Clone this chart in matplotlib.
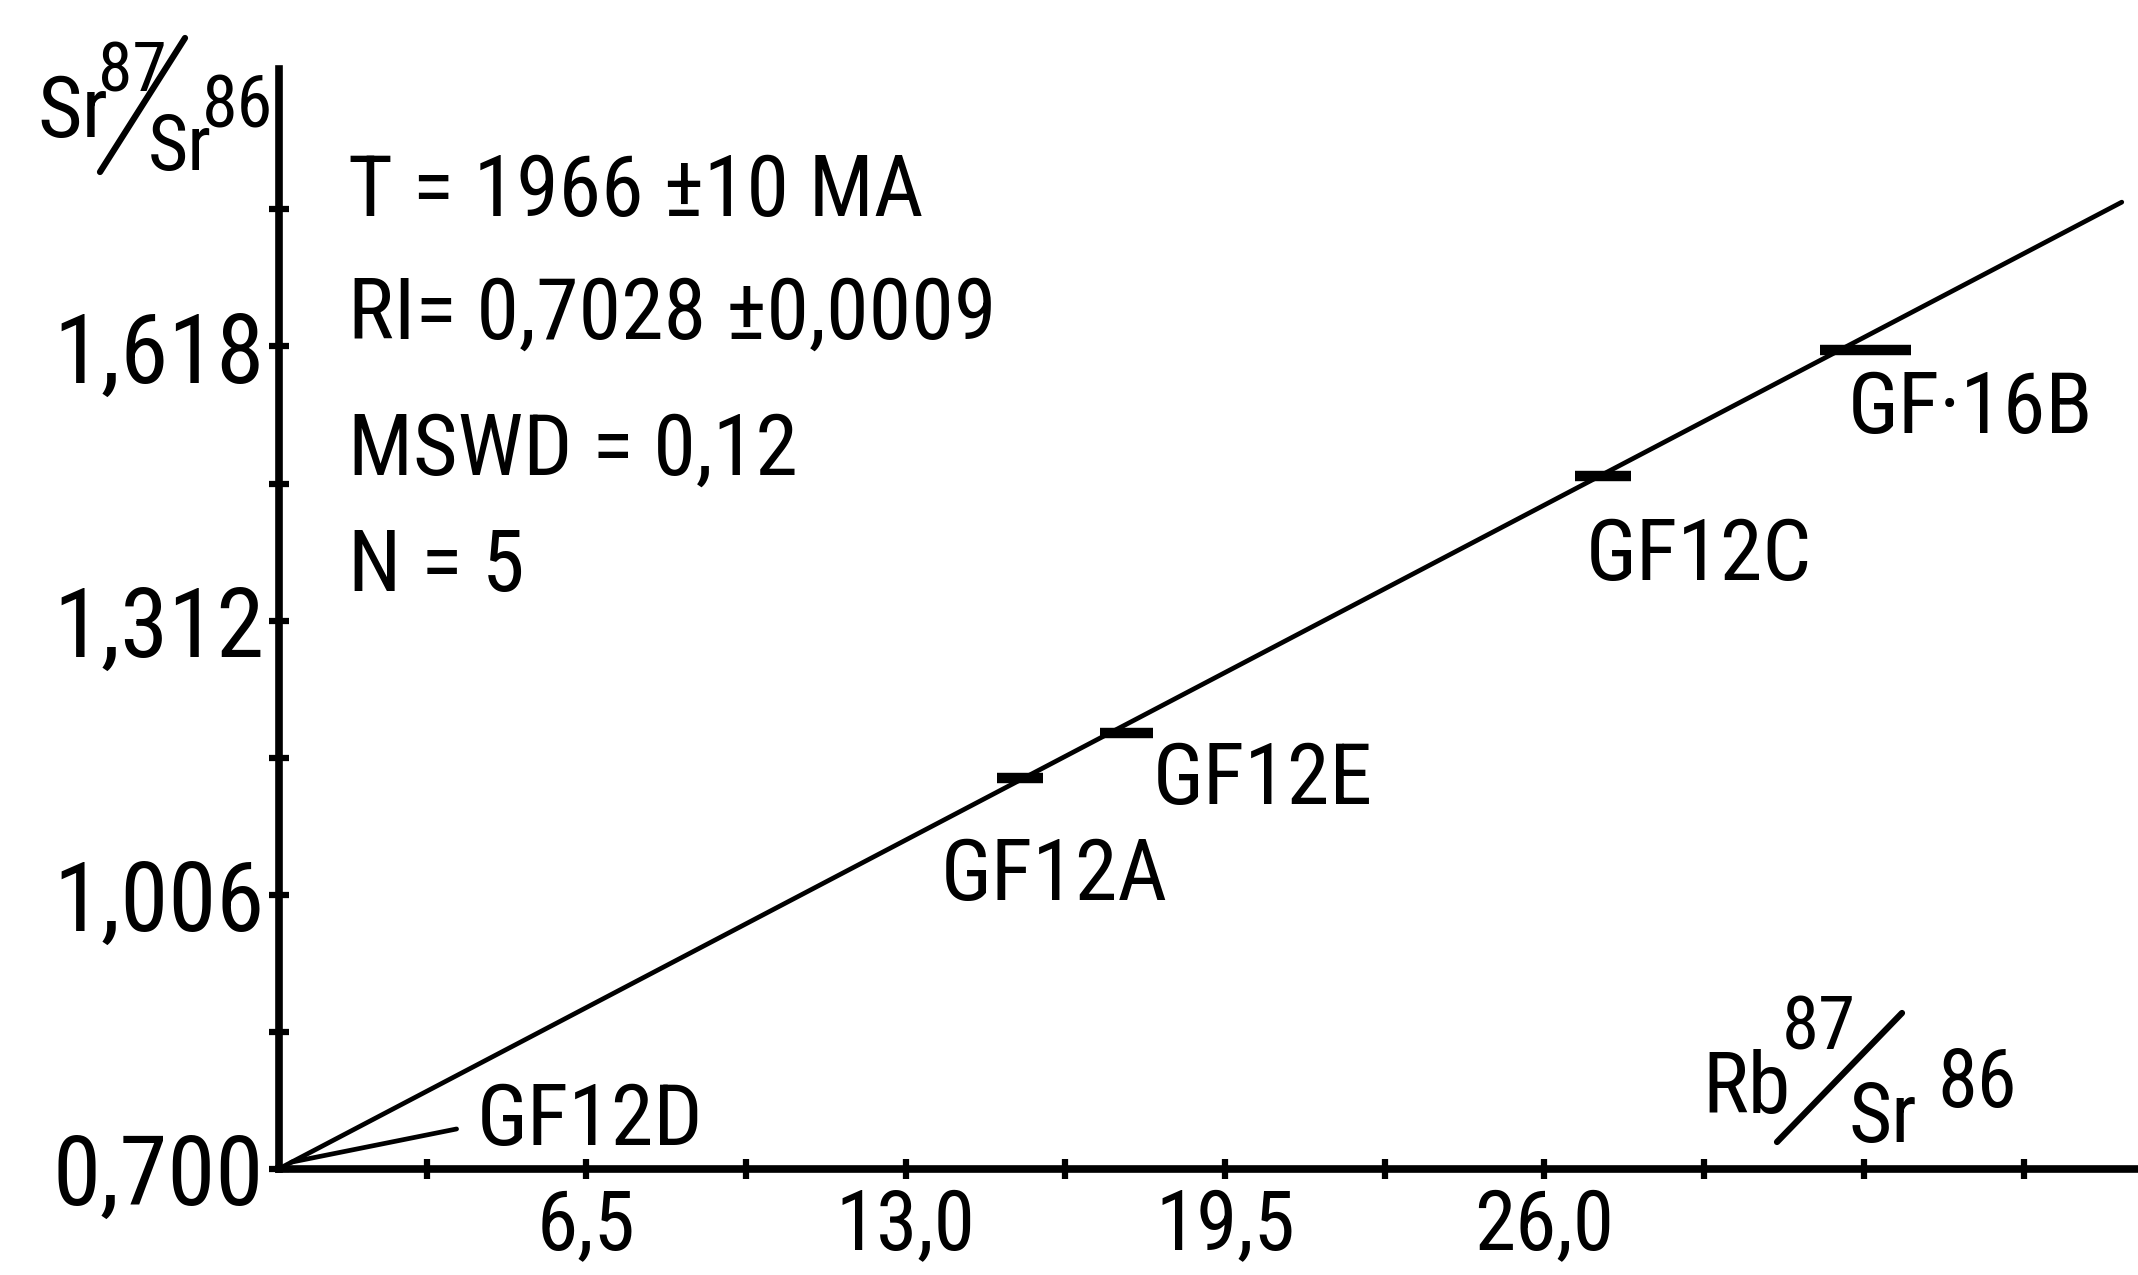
import matplotlib
matplotlib.use("Agg")
import matplotlib.pyplot as plt
from matplotlib.lines import Line2D

# Rb-Sr whole-rock isochron data
samples = ["GF12D", "GF12A", "GF12E", "GF12C", "GF·16B"]
rb_sr = [0.5, 15.33, 17.18, 27.19, 32.0]           # Rb87/Sr86
sr_sr = [0.708, 1.137, 1.187, 1.473, 1.614]        # Sr87/Sr86
err_lo = [0.0, 0.47, 0.22, 0.57, 0.40]             # horizontal error, left
err_hi = [0.0, 0.47, 0.86, 0.57, 1.45]             # horizontal error, right

# Fitted isochron end points
iso_x = [0.26, 37.75]
iso_y = [0.701, 1.779]

y_major = [0.700, 1.006, 1.312, 1.618]
y_major_labels = ["0,700", "1,006", "1,312", "1,618"]
y_minor = [0.853, 1.159, 1.465, 1.771]
x_major = [6.5, 13.0, 19.5, 26.0]
x_major_labels = ["6,5", "13,0", "19,5", "26,0"]
x_minor = [3.25, 9.75, 16.25, 22.75, 29.25, 32.5, 35.75]

stats = ["T = 1966 ±10 MA", "RI= 0,7028 ±0,0009", "MSWD = 0,12", "N = 5"]

plt.rcParams["font.family"] = ["Roboto Condensed", "DejaVu Sans"]

W, H = 2138, 1275
fig = plt.figure(figsize=(W / 100, H / 100), dpi=100)
ax = fig.add_axes([0.1307, 0.0829, 0.8693, 0.8626])

ax.set_xlim(0.255, 38.08)
ax.set_ylim(0.700, 1.927)

for side in ("top", "right"):
    ax.spines[side].set_visible(False)
for side in ("left", "bottom"):
    ax.spines[side].set_linewidth(5.5)
    ax.spines[side].set_capstyle("projecting")

ax.set_yticks(y_major)
ax.set_yticklabels(y_major_labels)
ax.set_yticks(y_minor, minor=True)
ax.set_xticks(x_major)
ax.set_xticklabels(x_major_labels)
ax.set_xticks(x_minor, minor=True)
ax.tick_params(which="both", direction="inout", length=14, width=4.5)
ax.tick_params(axis="y", which="major", pad=4, labelsize=70)
ax.tick_params(axis="x", which="major", pad=6, labelsize=60)

# Isochron
ax.plot(iso_x, iso_y, color="black", lw=3.4, solid_capstyle="round")

# Sample error bars
ax.errorbar(rb_sr, sr_sr, xerr=[err_lo, err_hi], fmt="none", ecolor="black",
            elinewidth=7.5, capsize=0)

# Leader for the sample near the origin
ax.annotate("", xy=(rb_sr[0], sr_sr[0]), xytext=(3.86, 0.745),
            arrowprops=dict(arrowstyle="-", lw=3.4, color="black",
                            shrinkA=0, shrinkB=0))

# Sample labels
label_pos = [(4.28, 0.7266), (13.72, 1.000), (18.02, 1.107), (26.85, 1.358), (32.17, 1.521)]
for name, (lx, ly) in zip(samples, label_pos):
    ax.text(lx, ly, name, fontsize=62, ha="left", va="baseline")

# Isochron statistics
stat_y = [1.764, 1.627, 1.475, 1.3456]
for s, sy in zip(stats, stat_y):
    ax.text(1.65, sy, s, fontsize=62, ha="left", va="baseline")


def ftext(px, py, s, size):
    fig.text(px / W, 1 - py / H, s, fontsize=size, ha="left", va="baseline")


def fslash(x0, y0, x1, y1):
    fig.add_artist(Line2D([x0 / W, x1 / W], [1 - y0 / H, 1 - y1 / H],
                          transform=fig.transFigure, color="black", lw=4.5,
                          solid_capstyle="round"))


# Y-axis ratio label
ftext(37, 137, "Sr", 62)
ftext(98, 92, "87", 50)
fslash(100, 172, 185, 38)
ftext(148, 170, "Sr", 56)
ftext(202, 128, "86", 52)

# X-axis ratio label
ftext(1702, 1113, "Rb", 62)
ftext(1782, 1050, "87", 54)
fslash(1777, 1142, 1902, 1013)
ftext(1848, 1142, "Sr", 60)
ftext(1937, 1107, "86", 58)

fig.savefig("out.png", dpi=100, facecolor="white")
